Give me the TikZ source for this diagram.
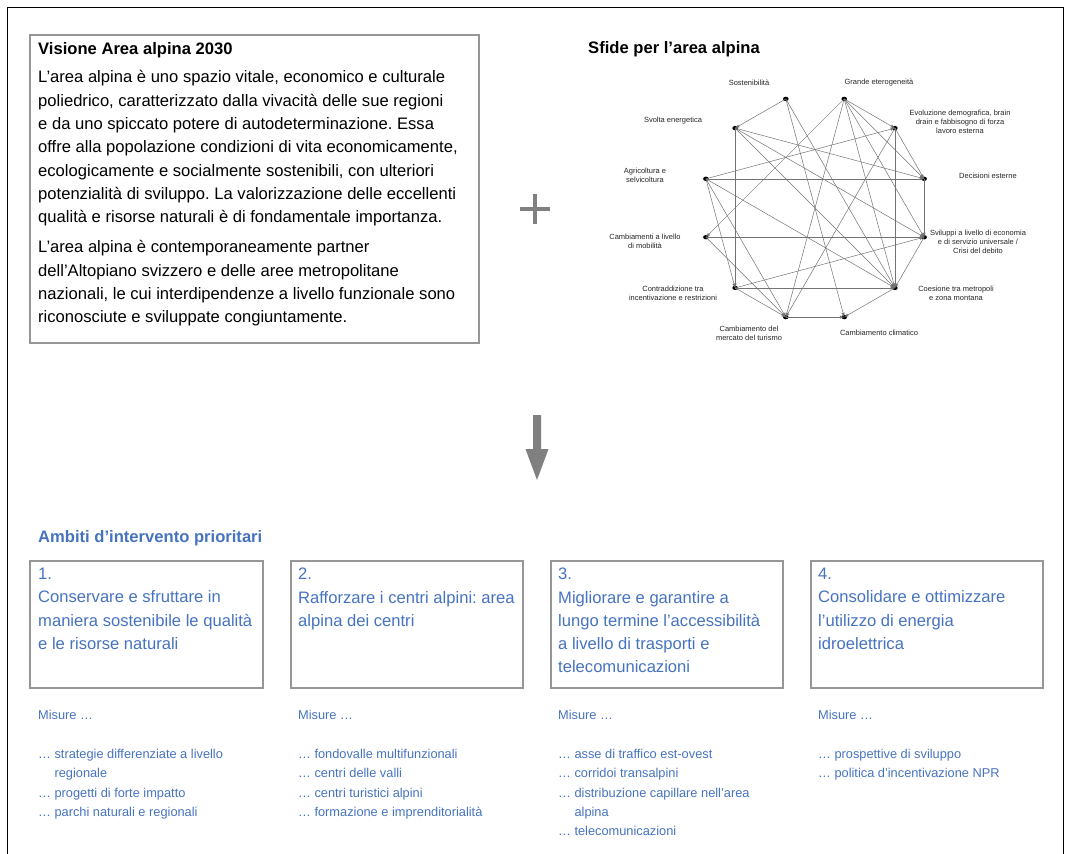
\documentclass[tikz,border=0pt]{standalone}
\usepackage{fontspec}
\setmainfont{Liberation Sans}
\usepackage{tikz}
\usetikzlibrary{shapes.geometric}
\usepackage{xcolor}

\definecolor{ambblue}{RGB}{70,115,192}
\definecolor{framegray}{RGB}{150,150,150}
\definecolor{signgray}{RGB}{128,128,128}
\definecolor{netgray}{RGB}{115,115,115}

\frenchspacing
\begin{document}
\begin{tikzpicture}[x=1pt,y=-1pt,
  bodytext/.style={font=\fontsize{16.6}{23.3}\selectfont,align=left,inner sep=0pt,anchor=north west},
  headtext/.style={font=\fontsize{16.6}{20}\selectfont\bfseries,inner sep=0pt,anchor=base west},
  ambtext/.style={bodytext,text=ambblue},
  mistext/.style={font=\fontsize{12.8}{19.3}\selectfont,align=left,inner sep=0pt,anchor=north west,text=ambblue},
  ambbox/.style={draw=framegray,line width=1.1pt},
  netdot/.style={ellipse,fill=black,inner sep=0pt,minimum width=5.6pt,minimum height=4.4pt},
  netline/.style={->,>=latex,draw=netgray,line width=0.5pt},
  netlabel/.style={font=\fontsize{7.5}{9.3}\selectfont,align=center,inner sep=0pt,text=black!85}]
  \useasboundingbox (0,0) rectangle (1069,854);
  \draw[line width=1pt] (7,854) -- (7,7) -- (1063,7) -- (1063,854);

  % Vision
  \draw[framegray,line width=1.1pt] (30,35) rectangle (479,343);
  \node[headtext] (vistitle) at (38,54) {Visione Area alpina 2030};
  \node[bodytext] (vistext) at (38,70.5) {L’area alpina è uno spazio vitale, economico e culturale\\
    poliedrico, caratterizzato dalla vivacità delle sue regioni\\
    e da uno spiccato potere di autodeterminazione. Essa\\
    offre alla popolazione condizioni di vita economicamente,\\
    ecologicamente e socialmente sostenibili, con ulteriori\\
    potenzialità di sviluppo. La valorizzazione delle eccellenti\\
    qualità e risorse naturali è di fondamentale importanza.\\[6.7pt]
    L’area alpina è contemporaneamente partner\\
    dell’Altopiano svizzero e delle aree metropolitane\\
    nazionali, le cui interdipendenze a livello funzionale sono\\
    riconosciute e sviluppate congiuntamente.};

  \draw[signgray,line width=4.5pt] (520,209) -- (550,209) (535,194) -- (535,224);

  % Challenges
  \node[headtext] (sfide) at (588,53) {Sfide per l’area alpina};
  \node[netdot] (s) at (785.8,98.9) {};
  \node[netdot] (g) at (844.2,98.9) {};
  \node[netdot] (e) at (894.9,128.1) {};
  \node[netdot] (d) at (924.1,178.8) {};
  \node[netdot] (v) at (924.1,237.2) {};
  \node[netdot] (c) at (894.9,287.9) {};
  \node[netdot] (k) at (844.2,317.1) {};
  \node[netdot] (t) at (785.8,317.1) {};
  \node[netdot] (x) at (735.1,287.9) {};
  \node[netdot] (m) at (705.9,237.2) {};
  \node[netdot] (a) at (705.9,178.8) {};
  \node[netdot] (w) at (735.1,128.1) {};
  \draw[netline] (s.center) -- (w.center); \draw[netline] (s.center) -- (k.center);
  \draw[netline] (s.center) -- (c.center);
  \draw[netline] (g.center) -- (e.center); \draw[netline] (g.center) -- (m.center);
  \draw[netline] (g.center) -- (t.center); \draw[netline] (g.center) -- (v.center);
  \draw[netline] (g.center) -- (d.center); \draw[netline] (g.center) -- (c.center);
  \draw[netline] (a.center) -- (e.center); \draw[netline] (e.center) -- (t.center);
  \draw[netline] (e.center) -- (c.center); \draw[netline] (e.center) -- (d.center);
  \draw[netline] (w.center) -- (x.center); \draw[netline] (w.center) -- (d.center);
  \draw[netline] (w.center) -- (v.center); \draw[netline] (w.center) -- (c.center);
  \draw[netline] (a.center) -- (d.center); \draw[netline] (a.center) -- (x.center);
  \draw[netline] (a.center) -- (t.center); \draw[netline] (a.center) -- (c.center);
  \draw[netline] (m.center) -- (v.center); \draw[netline] (m.center) -- (t.center);
  \draw[netline] (x.center) -- (c.center); \draw[netline] (x.center) -- (t.center);
  \draw[netline] (x.center) -- (v.center);
  \draw[netline] (d.center) -- (v.center); \draw[netline] (v.center) -- (c.center);
  \draw[netline] (c.center) -- (k.center); \draw[netline] (t.center) -- (k.center);

  \node[netlabel] (ls) at (749,83) {Sostenibilità};
  \node[netlabel] (lg) at (879,83) {Grande eterogeneità};
  \node[netlabel] (le) at (960,122) {Evoluzione demografica, brain\\drain e fabbisogno di forza\\lavoro esterna};
  \node[netlabel] (ld) at (988,176) {Decisioni esterne};
  \node[netlabel] (lv) at (978,242) {Sviluppi a livello di economia\\e di servizio universale /\\Crisi del debito};
  \node[netlabel] (lc) at (956,293) {Coesione tra metropoli\\e zona montana};
  \node[netlabel] (lk) at (879,333) {Cambiamento climatico};
  \node[netlabel] (lt) at (749,333) {Cambiamento del\\mercato del turismo};
  \node[netlabel] (lx) at (673,293) {Contraddizione tra\\incentivazione e restrizioni};
  \node[netlabel] (lm) at (645,241) {Cambiamenti a livello\\di mobilità};
  \node[netlabel] (la) at (645,175) {Agricoltura e\\selvicoltura};
  \node[netlabel] (lw) at (673,121) {Svolta energetica};

  \fill[signgray] (533,415) -- (541,415) -- (541,449) -- (548.5,449) -- (537,480)
    -- (525.5,449) -- (533,449) -- cycle;

  % Fields of action
  \node[headtext,text=ambblue] (ambiti) at (38,542.5) {Ambiti d’intervento prioritari};

  \draw[ambbox] (30,561) rectangle (263,688);
  \node[ambtext] (amb1) at (38,568) {1.\\Conservare e sfruttare in\\maniera sostenibile le qualità\\e le risorse naturali};
  \node[mistext] (mis1) at (38,710.4) {Misure …\\[19.3pt]
    … strategie differenziate a livello\\\phantom{… }regionale\\
    … progetti di forte impatto\\… parchi naturali e regionali};

  \draw[ambbox] (291,561) rectangle (523,688);
  \node[ambtext] (amb2) at (298,568) {2.\\Rafforzare i centri alpini: area\\alpina dei centri};
  \node[mistext] (mis2) at (298,710.4) {Misure …\\[19.3pt]
    … fondovalle multifunzionali\\… centri delle valli\\
    … centri turistici alpini\\… formazione e imprenditorialità};

  \draw[ambbox] (551,561) rectangle (783,688);
  \node[ambtext] (amb3) at (558,568) {3.\\Migliorare e garantire a\\lungo termine l’accessibilità\\a livello di trasporti e\\telecomunicazioni};
  \node[mistext] (mis3) at (558,710.4) {Misure …\\[19.3pt]
    … asse di traffico est-ovest\\… corridoi transalpini\\
    … distribuzione capillare nell’area\\\phantom{… }alpina\\… telecomunicazioni};

  \draw[ambbox] (811,561) rectangle (1043,688);
  \node[ambtext] (amb4) at (818,568) {4.\\Consolidare e ottimizzare\\l’utilizzo di energia\\idroelettrica};
  \node[mistext] (mis4) at (818,710.4) {Misure …\\[19.3pt]
    … prospettive di sviluppo\\… politica d’incentivazione NPR};
\end{tikzpicture}
\end{document}
